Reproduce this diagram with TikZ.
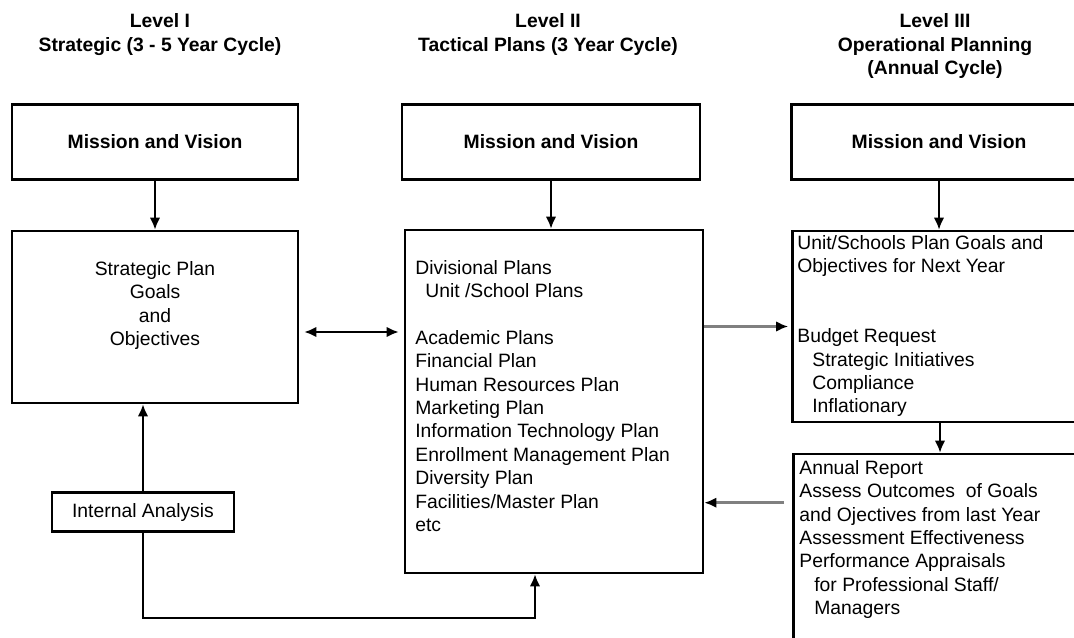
\documentclass[tikz,border=0pt]{standalone}
\usepackage{fontspec}
\setmainfont{Liberation Sans}
\usetikzlibrary{arrows.meta,positioning,calc}

\begin{document}
\begin{tikzpicture}[x=0.02cm, y=-0.02cm,
    font=\fontsize{11}{13.3}\selectfont,
    box/.style={rectangle, draw, line width=1.5pt, inner sep=0pt},
    missionbox/.style={box, minimum height=1.5cm, font=\fontsize{11}{13.3}\selectfont\bfseries},
    heading/.style={align=center, anchor=north, inner sep=0pt, font=\fontsize{11}{13.5}\selectfont\bfseries},
    listtext/.style={align=left, anchor=north west, inner sep=0pt},
    arrow/.style={-{Latex[length=0.24cm,width=0.21cm]}, line width=1.2pt},
    dblarrow/.style={{Latex[length=0.24cm,width=0.21cm]}-{Latex[length=0.24cm,width=0.21cm]}, line width=1.2pt},
    grayarrow/.style={-{Latex[length=0.24cm,width=0.21cm,color=black]}, line width=1.5pt, draw=gray}
]
    \useasboundingbox (0,0) rectangle (1074,638);

    % column headings
    \node[heading] (lvl1) at (160,13) {Level I\\Strategic (3 - 5 Year Cycle)};
    \node[heading] (lvl2) at (548,13) {Level II\\Tactical Plans (3 Year Cycle)};
    \node[heading] (lvl3) at (935,13) {Level III\\Operational Planning\\(Annual Cycle)};

    % mission boxes
    \node[missionbox, minimum width=5.72cm] (mv1) at (155,142) {Mission and Vision};
    \node[missionbox, minimum width=5.96cm] (mv2) at (551,142) {Mission and Vision};
    \node[missionbox, minimum width=5.9cm] (mv3) at (939,142) {Mission and Vision};

    % level I
    \node[box, minimum width=5.72cm, minimum height=3.44cm] (strat) at (155,317) {};
    \node[align=center, anchor=north, inner sep=0pt] (strattext) at (155,261) {Strategic Plan\\Goals\\and\\Objectives};
    \node[box, minimum width=3.64cm, minimum height=0.78cm] (ia) at (143,512) {Internal Analysis};

    % level II
    \node[box, minimum width=5.96cm, minimum height=6.86cm] (div) at (554,401.5) {};
    \node[listtext] (divtext) at (415,260) {Divisional Plans\\\hspace*{0.2cm}Unit /School Plans\\\mbox{}\\Academic Plans\\Financial Plan\\Human Resources Plan\\Marketing Plan\\Information Technology Plan\\Enrollment Management Plan\\Diversity Plan\\Facilities/Master Plan\\etc};

    % level III
    \node[box, minimum width=5.9cm, minimum height=3.82cm] (unit) at (940,326.5) {};
    \node[listtext] (unittext) at (797,235) {Unit/Schools Plan Goals and\\Objectives for Next Year\\\mbox{}\\\mbox{}\\Budget Request\\\hspace*{0.3cm}Strategic Initiatives\\\hspace*{0.3cm}Compliance\\\hspace*{0.3cm}Inflationary};
    \node[box, minimum width=5.9cm, minimum height=4.12cm] (annual) at (941,557) {};
    \node[listtext] (annualtext) at (799,460) {Annual Report\\Assess Outcomes~ of Goals\\and Ojectives from last Year\\Assessment Effectiveness\\Performance Appraisals\\\hspace*{0.3cm}for Professional Staff/\\\hspace*{0.3cm}Managers};

    % connectors
    \draw[arrow] (mv1.south) -- (mv1.south |- strat.north);
    \draw[arrow] (mv2.south) -- (mv2.south |- div.north);
    \draw[arrow] (mv3.south) -- (mv3.south |- unit.north);
    \draw[arrow] (unit.south) -- (unit.south |- annual.north);
    \coordinate (sd) at ($(strat.east)+(5,15)$);
    \draw[dblarrow, shorten >=0.1cm] (sd) -- (sd -| div.west);
    \draw[grayarrow, shorten >=0.06cm] (div.east |- unit.west) -- (unit.west);
    \coordinate (fb) at ($(annual.north west)+(0,50)$);
    \draw[grayarrow, shorten <=0.16cm] (fb) -- (fb -| div.east);
    \draw[arrow] (ia.north) -- (ia.north |- strat.south);
    \coordinate (loop) at (535,618);
    \draw[arrow] (ia.south) |- (loop) -- (loop |- div.south);
\end{tikzpicture}
\end{document}
